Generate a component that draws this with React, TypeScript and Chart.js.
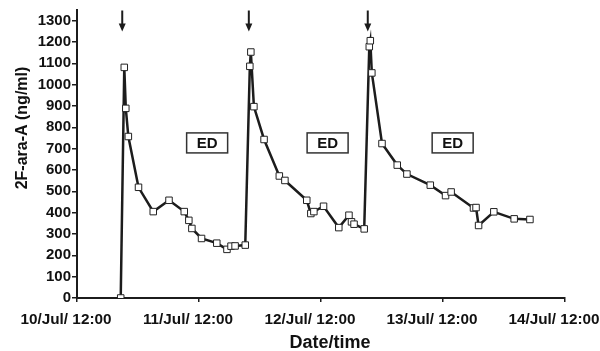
import React, { useEffect, useRef } from "react";
import { Chart, registerables } from "chart.js";

Chart.register(...registerables);

// Hours after 10/Jul 12:00
const sampleHours = [
  8.6, 9.3, 9.6, 10.1, 12.1, 15.0, 18.1, 21.1, 22.0, 22.6, 24.5, 27.5, 29.5, 30.3, 31.1, 33.1,
  34.0, 34.2, 34.8, 36.8, 39.8, 40.9, 45.2, 46.0, 46.6, 48.5, 51.5, 53.5, 54.0, 54.5, 56.5,
  57.5, 57.7, 58.0, 60.0, 63.0, 64.9, 69.5, 72.5, 73.6, 78.0, 78.5, 79.0, 82.0, 86.0, 89.1,
];
// 2F-ara-A concentration (ng/ml)
const concentrations = [
  0, 1081, 889, 757, 519, 405, 458, 405, 364, 326, 279, 257, 228, 243, 244, 248,
  1086, 1153, 897, 743, 572, 551, 458, 396, 405, 430, 330, 388, 357, 346, 324,
  1178, 1206, 1055, 724, 623, 581, 529, 480, 497, 422, 424, 340, 404, 371, 368,
];

const xTickHours = [0, 24, 48, 72, 96];
const xTickLabels = ["10/Jul/ 12:00", "11/Jul/ 12:00", "12/Jul/ 12:00", "13/Jul/ 12:00", "14/Jul/ 12:00"];
const yTickValues = [0, 100, 200, 300, 400, 500, 600, 700, 800, 900, 1000, 1100, 1200, 1300];

const doseHours = [8.9, 33.8, 57.2];
const edLabelHours = [25.6, 49.3, 73.9];
const edLabelValue = 727;
const edText = "ED";
const xTitle = "Date/time";
const yTitle = "2F-ara-A (ng/ml)";

const FONT = '"Liberation Sans", Arial, Helvetica, sans-serif';
const INK = "#1c1c1c";

const annotationPlugin = {
  id: "annotations",
  afterDraw(chart: any) {
    const ctx = chart.ctx;
    const xs = chart.scales.x;
    const ys = chart.scales.y;
    ctx.save();
    // dose arrows
    ctx.fillStyle = INK;
    ctx.strokeStyle = INK;
    for (const h of doseHours) {
      const x = xs.getPixelForValue(h);
      const top = ys.getPixelForValue(1350) + 0.5;
      const tip = top + 21;
      ctx.lineWidth = 2;
      ctx.beginPath();
      ctx.moveTo(x, top);
      ctx.lineTo(x, tip - 7);
      ctx.stroke();
      ctx.beginPath();
      ctx.moveTo(x - 3.5, tip - 8);
      ctx.lineTo(x + 3.5, tip - 8);
      ctx.lineTo(x, tip);
      ctx.closePath();
      ctx.fill();
    }
    // ED boxes
    ctx.font = `bold 15px ${FONT}`;
    ctx.textAlign = "center";
    ctx.textBaseline = "middle";
    for (const h of edLabelHours) {
      const cx = xs.getPixelForValue(h);
      const cy = ys.getPixelForValue(edLabelValue);
      const w = 41;
      const hh = 20;
      ctx.fillStyle = "#ffffff";
      ctx.fillRect(cx - w / 2, cy - hh / 2, w, hh);
      ctx.lineWidth = 1.5;
      ctx.strokeStyle = "#333";
      ctx.strokeRect(cx - w / 2, cy - hh / 2, w, hh);
      ctx.fillStyle = "#111";
      ctx.fillText(edText, cx, cy + 1);
    }
    // axis titles
    ctx.fillStyle = "#111";
    ctx.font = `bold 18px ${FONT}`;
    ctx.textAlign = "center";
    ctx.textBaseline = "alphabetic";
    ctx.fillText(xTitle, 330, 348);
    ctx.save();
    ctx.translate(27, 128);
    ctx.rotate(-Math.PI / 2);
    ctx.font = `bold 16px ${FONT}`;
    ctx.fillText(yTitle, 0, 0);
    ctx.restore();
    ctx.restore();
  },
};

export default function App() {
  const ref = useRef<HTMLCanvasElement | null>(null);

  useEffect(() => {
    document.body.style.margin = "0";
    const canvas = ref.current;
    if (!canvas) return;
    const chart = new Chart(canvas, {
      type: "line",
      data: {
        datasets: [
          {
            data: sampleHours.map((h, i) => ({ x: h, y: concentrations[i] })),
            borderColor: INK,
            borderWidth: 2.5,
            pointStyle: "rect",
            pointRadius: 4.6,
            pointBackgroundColor: "#ffffff",
            pointBorderColor: "#222",
            pointBorderWidth: 1,
            tension: 0,
          },
        ],
      },
      options: {
        animation: false,
        responsive: false,
        maintainAspectRatio: false,
        layout: { padding: { left: 0, right: 35, top: 0, bottom: 0 } },
        plugins: { legend: { display: false }, tooltip: { enabled: false } },
        scales: {
          x: {
            type: "linear",
            min: 0,
            max: 96,
            afterBuildTicks: (axis: any) => {
              axis.ticks = xTickHours.map((v) => ({ value: v }));
            },
            afterFit: (s: any) => {
              s.height = 53;
              s.paddingLeft = 0;
              s.paddingRight = 0;
            },
            ticks: {
              autoSkip: false,
              maxRotation: 0,
              minRotation: 0,
              labelOffset: -11,
              padding: 9,
              color: "#111",
              font: { family: FONT, size: 15.3, weight: "bold" },
              callback: (v: any) => {
                const i = xTickHours.indexOf(Number(v));
                return i >= 0 ? xTickLabels[i] : "";
              },
            },
            grid: { drawOnChartArea: false, drawTicks: true, tickLength: 4, color: INK, lineWidth: 1.5 },
            border: { display: true, color: INK, width: 2 },
          },
          y: {
            min: 0,
            max: 1350,
            afterBuildTicks: (axis: any) => {
              axis.ticks = yTickValues.map((v) => ({ value: v }));
            },
            afterFit: (s: any) => {
              s.width = 77;
            },
            ticks: {
              autoSkip: false,
              padding: 1,
              color: "#111",
              font: { family: FONT, size: 15, weight: "bold" },
              callback: (v: any) => String(v),
            },
            grid: { drawOnChartArea: false, drawTicks: true, tickLength: 5, color: INK, lineWidth: 1.5 },
            border: { display: true, color: INK, width: 2 },
          },
        },
      },
      plugins: [annotationPlugin],
    } as any);
    return () => chart.destroy();
  }, []);

  return <canvas ref={ref} width={600} height={351} style={{ display: "block" }} />;
}
